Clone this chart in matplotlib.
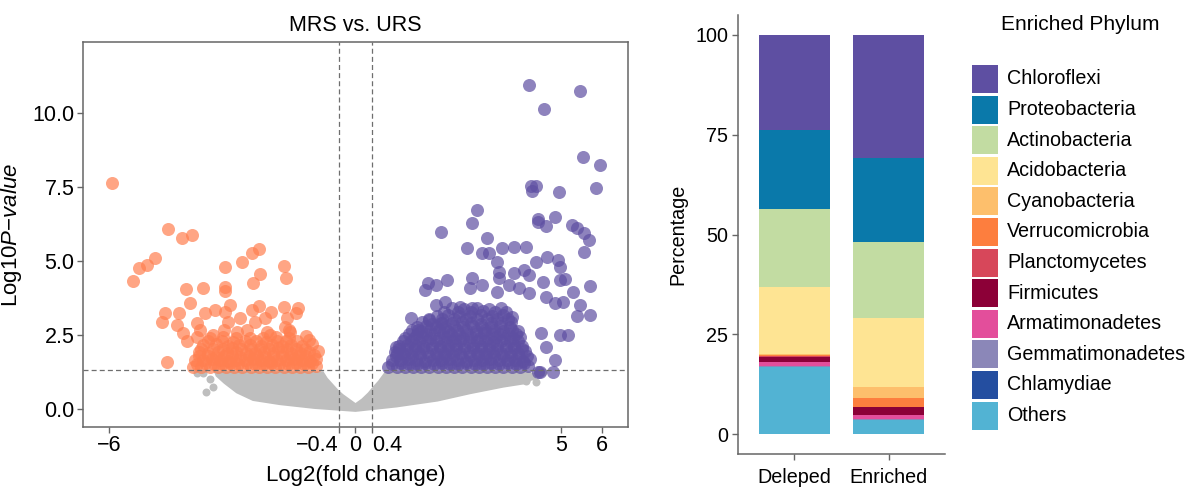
import matplotlib
matplotlib.use("Agg")
import matplotlib.pyplot as plt
from matplotlib.patches import Rectangle

plt.rcParams['font.family'] = ['Liberation Sans', 'DejaVu Sans']
plt.rcParams['mathtext.fontset'] = 'custom'
plt.rcParams['mathtext.rm'] = 'Liberation Sans'
plt.rcParams['mathtext.it'] = 'Liberation Sans:italic'

# ---------------- data: volcano ----------------
x_ticks = [-6, -0.4, 0, 0.4, 5, 6]
x_ticklabels = ['\u22126', '\u22120.4', '0', '0.4', '5', '6']
y_ticks = [0.0, 2.5, 5.0, 7.5, 10.0]
fc_cut = 0.4
p_cut = 1.30

# grey (not significant) cloud outline
grey_x = [-3.45, -0.78, -0.68, -0.55, -0.42, -0.30, -0.15, 0.00, 0.15, 0.30, 0.42, 0.55, 0.72,
          4.25, 4.35, 4.20, 3.60, 2.80, 2.00, 1.00, 0.00, -1.00, -1.85, -2.50, -2.90, -3.20, -3.40]
grey_y = [1.27, 1.27, 1.05, 0.85, 0.65, 0.50, 0.35, 0.20, 0.35, 0.55, 0.75, 0.95, 1.27,
          1.27, 1.05, 0.85, 0.72, 0.50, 0.25, 0.05, -0.10, 0.00, 0.13, 0.27, 0.53, 0.85, 1.10]
grey_pts = [(-3.54, 1.00), (-3.46, 0.75), (-3.63, 0.58), (-3.86, 1.20), (-3.70, 1.22),
            (4.30, 1.10), (4.45, 1.22), (4.15, 0.95), (4.38, 0.90), (4.55, 1.25)]

down_pts = [
    (-5.93, 7.62), (-4.55, 6.06), (-4.23, 5.76), (-3.98, 5.87), (-4.88, 5.09), (-5.08, 4.86),
    (-5.26, 4.75), (-5.41, 4.32), (-3.17, 4.78), (-2.76, 4.97), (-2.52, 5.28), (-2.36, 5.40),
    (-1.73, 4.83), (-1.68, 4.41), (-2.32, 4.56), (-2.50, 4.24), (-3.17, 4.13), (-3.17, 3.99),
    (-4.12, 4.04), (-3.71, 4.09), (-4.02, 3.57), (-4.63, 3.25), (-4.71, 2.95), (-4.29, 3.23),
    (-4.35, 2.83), (-4.19, 2.55), (-4.10, 2.31), (-4.58, 1.58), (-3.66, 3.23), (-3.41, 3.34),
    (-3.05, 3.51), (-3.17, 3.28), (-2.80, 3.06), (-2.52, 3.34), (-2.34, 3.48), (-2.06, 3.28),
    (-2.20, 3.06), (-1.73, 3.43), (-1.41, 3.40), (-1.44, 3.23), (-1.67, 3.06), (-1.71, 2.78),
    (-1.63, 2.67), (-1.14, 2.33), (-3.86, 2.89), (-3.78, 2.67), (-3.21, 2.67), (-3.09, 2.95),
    (-2.89, 2.61), (-2.64, 2.67), (-2.44, 2.95), (-2.15, 2.61), (-2.07, 2.50), (-3.46, 2.50),
    (-3.86, 2.44), (-1.60, 2.60), (-1.20, 2.45), (-1.05, 2.20), (-0.92, 1.95),
    # dense band
    (-3.95, 1.42), (-3.75, 1.40), (-3.55, 1.43), (-3.35, 1.41), (-3.15, 1.40), (-2.95, 1.43),
    (-2.75, 1.41), (-2.55, 1.40), (-2.35, 1.43), (-2.15, 1.41), (-1.95, 1.40), (-1.75, 1.43),
    (-1.55, 1.41), (-1.35, 1.40), (-1.15, 1.43), (-0.95, 1.45),
    (-3.85, 1.53), (-3.65, 1.54), (-3.45, 1.52), (-3.25, 1.53), (-3.05, 1.55), (-2.85, 1.52),
    (-2.65, 1.54), (-2.45, 1.53), (-2.25, 1.52), (-2.05, 1.55), (-1.85, 1.53), (-1.65, 1.52),
    (-1.45, 1.54), (-1.25, 1.53), (-1.05, 1.55),
    (-3.90, 1.66), (-3.70, 1.64), (-3.50, 1.67), (-3.30, 1.65), (-3.10, 1.63), (-2.90, 1.66),
    (-2.70, 1.64), (-2.50, 1.67), (-2.30, 1.65), (-2.10, 1.63), (-1.90, 1.66), (-1.70, 1.64),
    (-1.50, 1.67), (-1.30, 1.65), (-1.10, 1.63), (-0.95, 1.70),
    (-3.80, 1.78), (-3.60, 1.79), (-3.40, 1.77), (-3.20, 1.78), (-3.00, 1.80), (-2.80, 1.77),
    (-2.60, 1.79), (-2.40, 1.78), (-2.20, 1.77), (-2.00, 1.80), (-1.80, 1.78), (-1.60, 1.77),
    (-1.40, 1.79), (-1.20, 1.78), (-1.02, 1.82),
    (-3.80, 1.92), (-3.58, 1.88), (-3.35, 1.91), (-3.12, 1.89), (-2.90, 1.92), (-2.66, 1.90),
    (-2.44, 1.88), (-2.22, 1.91), (-2.00, 1.89), (-1.78, 1.92), (-1.56, 1.90), (-1.34, 1.88),
    (-1.14, 1.93),
    (-3.75, 2.03), (-3.47, 2.04), (-3.23, 2.02), (-3.00, 2.05), (-2.78, 2.03), (-2.55, 2.02),
    (-2.33, 2.04), (-2.11, 2.03), (-1.89, 2.05), (-1.67, 2.02), (-1.45, 2.04), (-1.24, 2.03),
    (-3.70, 2.15), (-3.40, 2.18), (-3.10, 2.14), (-2.84, 2.17), (-2.56, 2.15), (-2.30, 2.13),
    (-2.04, 2.16), (-1.80, 2.14), (-1.56, 2.17), (-1.30, 2.12),
    (-3.60, 2.28), (-3.25, 2.29), (-2.97, 2.27), (-2.70, 2.30), (-2.43, 2.28), (-2.17, 2.27),
    (-1.92, 2.29), (-1.68, 2.28), (-1.43, 2.30),
    (-3.55, 2.40), (-3.22, 2.42), (-2.90, 2.38), (-2.56, 2.41), (-2.26, 2.39), (-1.94, 2.42),
    (-1.62, 2.38),
]

up_pts = [
    (4.21, 10.93), (5.45, 10.73), (4.59, 10.12), (5.53, 8.51), (5.96, 8.23), (4.27, 7.54),
    (4.40, 7.54), (4.30, 7.36), (4.96, 7.33), (5.86, 7.47), (2.96, 6.71), (2.83, 6.27),
    (4.45, 6.41), (4.85, 6.47), (4.64, 6.18), (5.26, 6.21), (5.38, 6.10), (5.57, 5.93),
    (5.67, 5.70), (2.09, 5.97), (3.20, 5.76), (2.71, 5.42), (3.08, 5.25), (3.24, 5.25),
    (3.57, 5.42), (3.86, 5.48), (4.15, 5.46), (4.44, 6.32), (5.57, 5.31), (4.40, 4.97),
    (4.67, 5.12), (4.93, 5.03), (4.97, 4.80), (4.97, 4.35), (5.10, 4.38), (5.70, 4.15),
    (5.29, 3.96), (5.04, 3.62), (5.47, 3.51), (5.40, 3.15), (5.70, 3.17), (1.76, 4.24),
    (1.68, 4.02), (2.22, 4.35), (1.97, 4.18), (2.83, 4.41), (3.08, 4.18), (2.79, 4.07),
    (3.45, 4.97), (3.48, 4.63), (3.49, 4.41), (3.86, 4.58), (4.11, 4.69), (4.23, 4.52),
    (3.74, 4.18), (3.99, 4.07), (4.23, 3.90), (4.56, 4.30), (4.64, 3.79), (4.85, 3.57),
    (3.45, 3.96), (1.35, 3.06), (0.98, 2.10), (1.02, 1.88), (1.97, 3.51), (2.18, 3.62),
    (2.55, 3.45), (2.83, 3.40), (1.52, 2.67), (1.80, 3.00), (2.09, 2.89), (4.52, 2.55),
    (4.64, 2.10), (4.85, 1.65), (4.97, 2.50), (5.18, 2.50), (4.48, 1.26), (4.81, 1.26),
    (4.44, 1.26),
    # dense band
    (0.80, 1.42), (1.00, 1.40), (1.20, 1.43), (1.40, 1.40), (1.60, 1.42), (1.80, 1.40),
    (2.00, 1.43), (2.20, 1.41), (2.40, 1.40), (2.60, 1.43), (2.80, 1.41), (3.00, 1.40),
    (3.20, 1.42), (3.40, 1.40), (3.60, 1.43), (3.80, 1.41), (4.00, 1.40), (4.20, 1.44),
    (0.90, 1.53), (1.10, 1.54), (1.30, 1.52), (1.50, 1.53), (1.70, 1.55), (1.90, 1.52),
    (2.10, 1.54), (2.30, 1.53), (2.50, 1.52), (2.70, 1.55), (2.90, 1.53), (3.10, 1.52),
    (3.30, 1.54), (3.50, 1.53), (3.70, 1.55), (3.90, 1.52), (4.10, 1.54),
    (0.88, 1.66), (1.08, 1.64), (1.28, 1.67), (1.48, 1.65), (1.68, 1.63), (1.88, 1.66),
    (2.08, 1.64), (2.28, 1.67), (2.48, 1.65), (2.68, 1.63), (2.88, 1.66), (3.08, 1.65),
    (3.28, 1.67), (3.48, 1.64), (3.68, 1.66), (3.88, 1.65), (4.08, 1.63), (4.25, 1.70),
    (0.98, 1.78), (1.18, 1.79), (1.38, 1.77), (1.58, 1.78), (1.78, 1.80), (1.98, 1.77),
    (2.18, 1.79), (2.38, 1.78), (2.58, 1.77), (2.78, 1.80), (2.98, 1.78), (3.18, 1.77),
    (3.38, 1.79), (3.58, 1.78), (3.78, 1.80), (3.98, 1.77), (4.18, 1.79),
    (0.95, 1.92), (1.15, 1.88), (1.35, 1.91), (1.55, 1.89), (1.75, 1.92), (1.95, 1.90),
    (2.15, 1.88), (2.35, 1.91), (2.55, 1.89), (2.75, 1.92), (2.95, 1.90), (3.15, 1.88),
    (3.35, 1.91), (3.55, 1.89), (3.75, 1.92), (3.95, 1.90), (4.12, 1.95),
    (1.05, 2.03), (1.25, 2.04), (1.45, 2.02), (1.65, 2.03), (1.85, 2.05), (2.05, 2.02),
    (2.25, 2.04), (2.45, 2.03), (2.65, 2.02), (2.85, 2.05), (3.05, 2.03), (3.25, 2.02),
    (3.45, 2.04), (3.65, 2.03), (3.85, 2.05), (4.05, 2.02),
    (1.05, 2.14), (1.25, 2.17), (1.45, 2.15), (1.65, 2.13), (1.85, 2.16), (2.05, 2.14),
    (2.25, 2.17), (2.45, 2.15), (2.65, 2.13), (2.85, 2.16), (3.05, 2.14), (3.25, 2.17),
    (3.45, 2.15), (3.65, 2.13), (3.85, 2.16), (4.05, 2.14),
    (1.15, 2.28), (1.35, 2.29), (1.55, 2.27), (1.75, 2.28), (1.95, 2.30), (2.15, 2.27),
    (2.35, 2.29), (2.55, 2.28), (2.75, 2.27), (2.95, 2.30), (3.15, 2.28), (3.35, 2.27),
    (3.55, 2.29), (3.75, 2.28), (3.95, 2.30),
    (1.20, 2.41), (1.42, 2.38), (1.62, 2.42), (1.82, 2.40), (2.02, 2.38), (2.22, 2.42),
    (2.42, 2.40), (2.62, 2.38), (2.82, 2.42), (3.02, 2.40), (3.22, 2.38), (3.42, 2.42),
    (3.62, 2.40), (3.82, 2.38), (4.00, 2.44),
    (1.30, 2.53), (1.50, 2.54), (1.72, 2.52), (1.92, 2.53), (2.12, 2.55), (2.32, 2.52),
    (2.52, 2.54), (2.72, 2.53), (2.92, 2.52), (3.12, 2.55), (3.32, 2.53), (3.52, 2.52),
    (3.72, 2.54), (3.90, 2.53),
    (1.38, 2.66), (1.60, 2.63), (1.82, 2.67), (2.04, 2.65), (2.26, 2.63), (2.48, 2.67),
    (2.70, 2.65), (2.92, 2.63), (3.14, 2.67), (3.36, 2.65), (3.58, 2.63), (3.80, 2.67),
    (3.95, 2.62),
    (1.50, 2.78), (1.72, 2.79), (1.95, 2.77), (2.18, 2.78), (2.40, 2.80), (2.62, 2.77),
    (2.85, 2.79), (3.08, 2.78), (3.30, 2.77), (3.52, 2.80), (3.75, 2.78),
    (1.62, 2.92), (1.86, 2.88), (2.10, 2.91), (2.34, 2.89), (2.58, 2.92), (2.82, 2.90),
    (3.06, 2.88), (3.30, 2.91), (3.54, 2.89), (3.78, 2.92),
    (1.80, 3.03), (2.10, 3.04), (2.40, 3.02), (2.70, 3.05), (2.95, 3.03), (3.20, 3.02),
    (3.45, 3.04), (3.70, 3.03),
    (1.98, 3.14), (2.25, 3.17), (2.52, 3.15), (2.79, 3.13), (3.06, 3.16), (3.33, 3.14),
    (3.60, 3.17), (3.80, 3.12),
    (2.15, 3.28), (2.50, 3.29), (2.80, 3.27), (3.10, 3.30), (3.40, 3.28), (3.65, 3.27),
    (2.35, 3.40), (2.65, 3.38), (2.95, 3.42), (3.25, 3.39), (3.55, 3.41),
]

# ---------------- data: stacked bars ----------------
groups = ['Deleped', 'Enriched']
phyla = ['Chloroflexi', 'Proteobacteria', 'Actinobacteria', 'Acidobacteria', 'Cyanobacteria',
         'Verrucomicrobia', 'Planctomycetes', 'Firmicutes', 'Armatimonadetes',
         'Gemmatimonadetes', 'Chlamydiae', 'Others']
deleped_pct = [23.8, 19.8, 19.6, 16.8, 0.2, 0.2, 0.3, 1.3, 0.9, 0.2, 0.2, 16.7]
enriched_pct = [30.8, 21.2, 18.9, 17.3, 2.8, 2.1, 0.1, 1.95, 1.0, 0.25, 0.1, 3.5]
phylum_colors = ['#5E4FA2', '#0A79AA', '#C2DCA2', '#FEE493', '#FDBF6C', '#FD7E3E',
                 '#D7475A', '#8C0037', '#E34E9B', '#8B87B8', '#244EA0', '#52B3D3']

# ---------------- figure ----------------
W, H = 1197, 487
fig = plt.figure(figsize=(W / 100, H / 100), dpi=100)
spine_c = '#666666'

ax1 = fig.add_axes([83 / W, 1 - 427 / H, 545 / W, 385 / H])
ax1.fill(grey_x, grey_y, color='#BEBEBE', lw=0, zorder=1)
gx, gy = zip(*grey_pts)
ax1.scatter(gx, gy, s=33, color='#BEBEBE', lw=0, zorder=1)
dx, dy = zip(*down_pts)
ax1.scatter(dx, dy, s=88, color='#FF7F50', alpha=0.7, lw=0, zorder=2)
ux, uy = zip(*up_pts)
ax1.scatter(ux, uy, s=88, color='#5E4FA2', alpha=0.7, lw=0, zorder=2)

dash = (0, (4, 2.5))
for v in (-fc_cut, fc_cut):
    ax1.axvline(v, color='#6E6E6E', lw=0.9, ls=dash, zorder=3)
ax1.axhline(p_cut, color='#6E6E6E', lw=0.9, ls=dash, zorder=3)

ax1.set_xlim(-6.63, 6.63)
ax1.set_ylim(-0.61, 12.39)
ax1.set_xticks(x_ticks)
ax1.set_xticklabels(x_ticklabels)
ax1.set_yticks(y_ticks)
ax1.set_yticklabels([f'{v:.1f}' for v in y_ticks])
xl = ax1.get_xticklabels()
xl[1].set_ha('right')
xl[3].set_ha('left')
ax1.tick_params(labelsize=15.5, length=4, width=1, color=spine_c, pad=2)
for s in ax1.spines.values():
    s.set_color(spine_c)
    s.set_linewidth(1.1)
ax1.set_title('MRS vs. URS', fontsize=15.5, pad=8)
ax1.set_xlabel('Log2(fold change)', fontsize=16, labelpad=6)
ax1.set_ylabel(r'Log10$\mathit{P{-}value}$', fontsize=16, labelpad=6)

# stacked bars
ax2 = fig.add_axes([738 / W, 1 - 454 / H, 207 / W, 439 / H])
xpos = [0, 1]
bottoms = [0.0, 0.0]
for i in range(len(phyla) - 1, -1, -1):
    vals = [deleped_pct[i], enriched_pct[i]]
    ax2.bar(xpos, vals, bottom=bottoms, width=0.75, color=phylum_colors[i], lw=0)
    bottoms = [bottoms[0] + vals[0], bottoms[1] + vals[1]]
ax2.set_xlim(-0.6, 1.6)
ax2.set_ylim(-5, 105)
ax2.set_yticks([0, 25, 50, 75, 100])
ax2.set_xticks(xpos)
ax2.set_xticklabels(groups)
ax2.tick_params(labelsize=14.2, length=4, width=1, color=spine_c, pad=3)
ax2.tick_params(axis='x', pad=6)
for side in ('top', 'right'):
    ax2.spines[side].set_visible(False)
for side in ('left', 'bottom'):
    ax2.spines[side].set_color(spine_c)
    ax2.spines[side].set_linewidth(1.1)
ax2.set_ylabel('Percentage', fontsize=14.2, labelpad=6)

# legend (drawn in figure pixel coordinates)
fig.text(1080 / W, 1 - 25 / H, 'Enriched Phylum', fontsize=15, ha='center', va='center')
for i, (name, col) in enumerate(zip(phyla, phylum_colors)):
    yc = 79 + i * 30.6
    fig.patches.append(Rectangle((972 / W, 1 - (yc + 14) / H), 26 / W, 28 / H,
                                 transform=fig.transFigure, color=col, lw=0))
    fig.text(1007 / W, 1 - yc / H, name, fontsize=14.2, ha='left', va='center')

fig.savefig('out.png', dpi=100)
